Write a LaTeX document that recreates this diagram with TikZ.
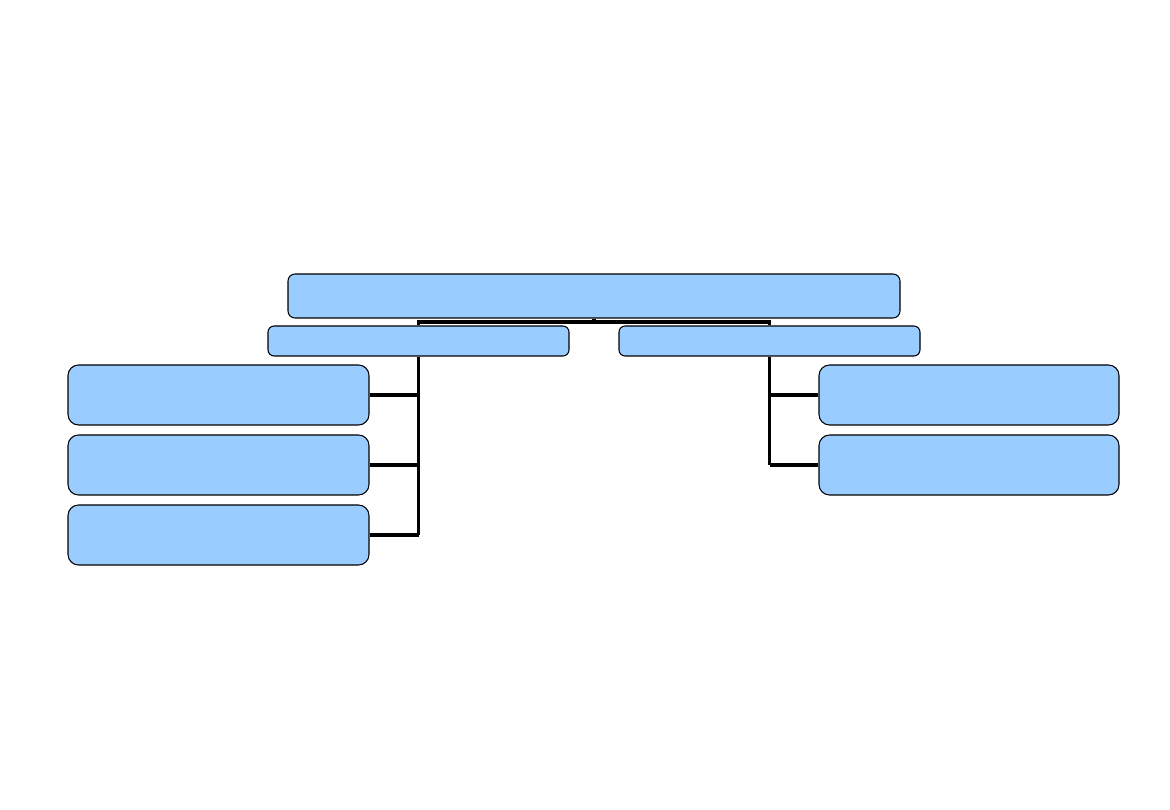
\documentclass[tikz,border=0pt]{standalone}
\usepackage{xcolor}
\usetikzlibrary{positioning,calc}
\definecolor{boxblue}{HTML}{99CCFF}

\begin{document}
\begin{tikzpicture}[x=0.02cm,y=-0.02cm,
  box/.style={draw=black,fill=boxblue,line width=0.6pt,inner sep=0pt,
    rounded corners=#1},
  box/.default=6pt,
  link/.style={line width=2.2pt},
  toplink/.style={line width=1.9pt}]
  \useasboundingbox (0,0) rectangle (1170,810);
  \def\px{0.02cm}
  % top box and the two branches
  \node[box=4pt,minimum width=612*\px,minimum height=44*\px] (top) at (594,296) {};
  \node[box=3.5pt,minimum width=301*\px,minimum height=30*\px] (ml) at (418.5,341) {};
  \node[box=3.5pt,minimum width=301*\px,minimum height=30*\px] (mr) at (769.5,341) {};
  \coordinate (jn) at (594,322);
  \draw[toplink] (top.south) -- (jn);
  \draw[toplink] (ml.north) |- (jn) -| (mr.north);
  % left column
  \foreach \y [count=\i] in {395,465,535} {
    \node[box,minimum width=301*\px,minimum height=60*\px] (l\i) at (218.5,\y) {};
    \draw[link] (l\i.east) -- (l\i.east -| ml.south);
  }
  \draw[link] (ml.south) -- (ml.south |- l3.east);
  % right column
  \foreach \y [count=\i] in {395,465} {
    \node[box,minimum width=300*\px,minimum height=60*\px] (r\i) at (969,\y) {};
    \draw[link] (r\i.west) -- (r\i.west -| mr.south);
  }
  \draw[link] (mr.south) -- (mr.south |- r2.west);
\end{tikzpicture}
\end{document}
